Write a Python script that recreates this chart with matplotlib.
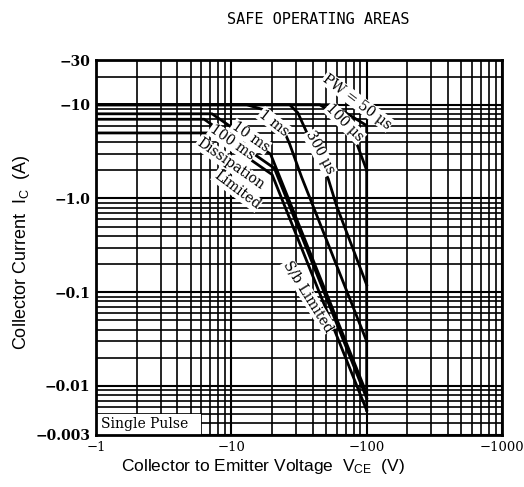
import matplotlib
matplotlib.use("Agg")
import matplotlib.pyplot as plt
from matplotlib.ticker import NullFormatter, FixedLocator
from matplotlib.patches import Rectangle

# SOA curves: collector-emitter voltage (V) vs collector current (A), magnitudes
v_50us = [1, 56, 100, 100]
i_50us = [10, 10, 6.0, 0.0055]
v_100us = [1, 45, 58, 72, 86, 100]
i_100us = [10, 10, 8.0, 6.0, 3.6, 2.0]
v_300us = [1, 27, 31, 40, 52, 60, 100]
i_300us = [10, 10, 8.2, 3.65, 1.62, 0.83, 0.12]
v_1ms = [1, 13, 19, 23, 27, 33, 100]
i_1ms = [10, 10, 8.5, 6.5, 3.8, 1.7, 0.03]
v_10ms = [1, 7.2, 19.5, 100]
i_10ms = [8, 8, 2.97, 0.0083]
v_100ms = [1, 6.3, 20.8, 100]
i_100ms = [7, 7, 2.1, 0.0074]
v_dc = [1, 7.2, 20, 100]
i_dc = [5, 5, 1.8, 0.0055]

x_ticks = [1, 10, 100, 1000]
x_labels = ["\u22121", "\u221210", "\u2212100", "\u22121000"]
y_ticks = [0.003, 0.01, 0.1, 1, 10, 30]
y_labels = ["\u22120.003", "\u22120.01", "\u22120.1", "\u22121.0", "\u221210", "\u221230"]

plt.rcParams["mathtext.fontset"] = "custom"
plt.rcParams["mathtext.rm"] = "Liberation Sans"

fig = plt.figure(figsize=(5.24, 4.87), dpi=100)
ax = fig.add_axes([96/524, 1-435/487, (502-96)/524, (435-60)/487])
ax.set_xscale("log")
ax.set_yscale("log")
ax.set_xlim(1, 1000)
ax.set_ylim(0.003, 30)

ax.xaxis.set_major_locator(FixedLocator(x_ticks))
ax.set_xticklabels(x_labels, family="DejaVu Serif", fontsize=9.5)
ax.yaxis.set_major_locator(FixedLocator(y_ticks))
ax.set_yticklabels(y_labels, family="DejaVu Serif", fontsize=10, fontweight="bold")
ax.xaxis.set_minor_formatter(NullFormatter())
ax.yaxis.set_minor_formatter(NullFormatter())
ax.tick_params(which="both", length=0, pad=4)

ax.grid(True, which="minor", color="black", lw=1.2)
ax.grid(True, which="major", color="black", lw=1.5)
for s in ax.spines.values():
    s.set_linewidth(2)

for v, i in [(v_50us, i_50us), (v_100us, i_100us), (v_300us, i_300us),
             (v_1ms, i_1ms), (v_10ms, i_10ms), (v_100ms, i_100ms), (v_dc, i_dc)]:
    ax.plot(v, i, color="black", lw=2.0, zorder=3)

lab = dict(family="DejaVu Serif", fontsize=10, ha="center", va="center",
           rotation_mode="anchor", zorder=4,
           bbox=dict(boxstyle="square,pad=0.05", fc="white", ec="none"))
ax.text(85, 10.8, "PW = 50 \u03bcs", rotation=-37, **lab)
ax.text(69, 6.4, "100 \u03bcs", rotation=-45, **lab)
ax.text(45, 3.07, "300 \u03bcs", rotation=-62, **lab)
ax.text(20.7, 6.4, "1 ms", rotation=-38, **lab)
ax.text(13.8, 4.55, "10 ms", rotation=-35, **lab)
ax.text(10.1, 3.93, "100 ms", rotation=-35, **lab)
ax.text(9.8, 2.34, "Dissipation", rotation=-35, **lab)
ax.text(11, 1.23, "Limited", rotation=-37, **lab)
ax.text(36.9, 0.0906, "S/b Limited", rotation=-58, **lab)

ax.add_patch(Rectangle((1, 0.003), 5, 0.002, fc="white", ec="none", zorder=2.5))
ax.text(1.08, 0.0039, "Single Pulse", family="DejaVu Serif", fontsize=10,
        ha="left", va="center", zorder=4)

fig.text(318/524, 1-20/487, "SAFE OPERATING AREAS", family="DejaVu Sans Mono",
         fontsize=11, ha="center", va="center")
fig.text(263/524, 1-467/487,
         r"Collector to Emitter Voltage  $\mathregular{V_{CE}}$  (V)",
         family="Liberation Sans", fontsize=12.5, ha="center", va="center")
fig.text(22/524, 1-252/487, r"Collector Current  $\mathregular{I_{C}}$  (A)",
         family="Liberation Sans", fontsize=13, ha="center", va="center",
         rotation=90)

fig.savefig("out.png", dpi=100)
